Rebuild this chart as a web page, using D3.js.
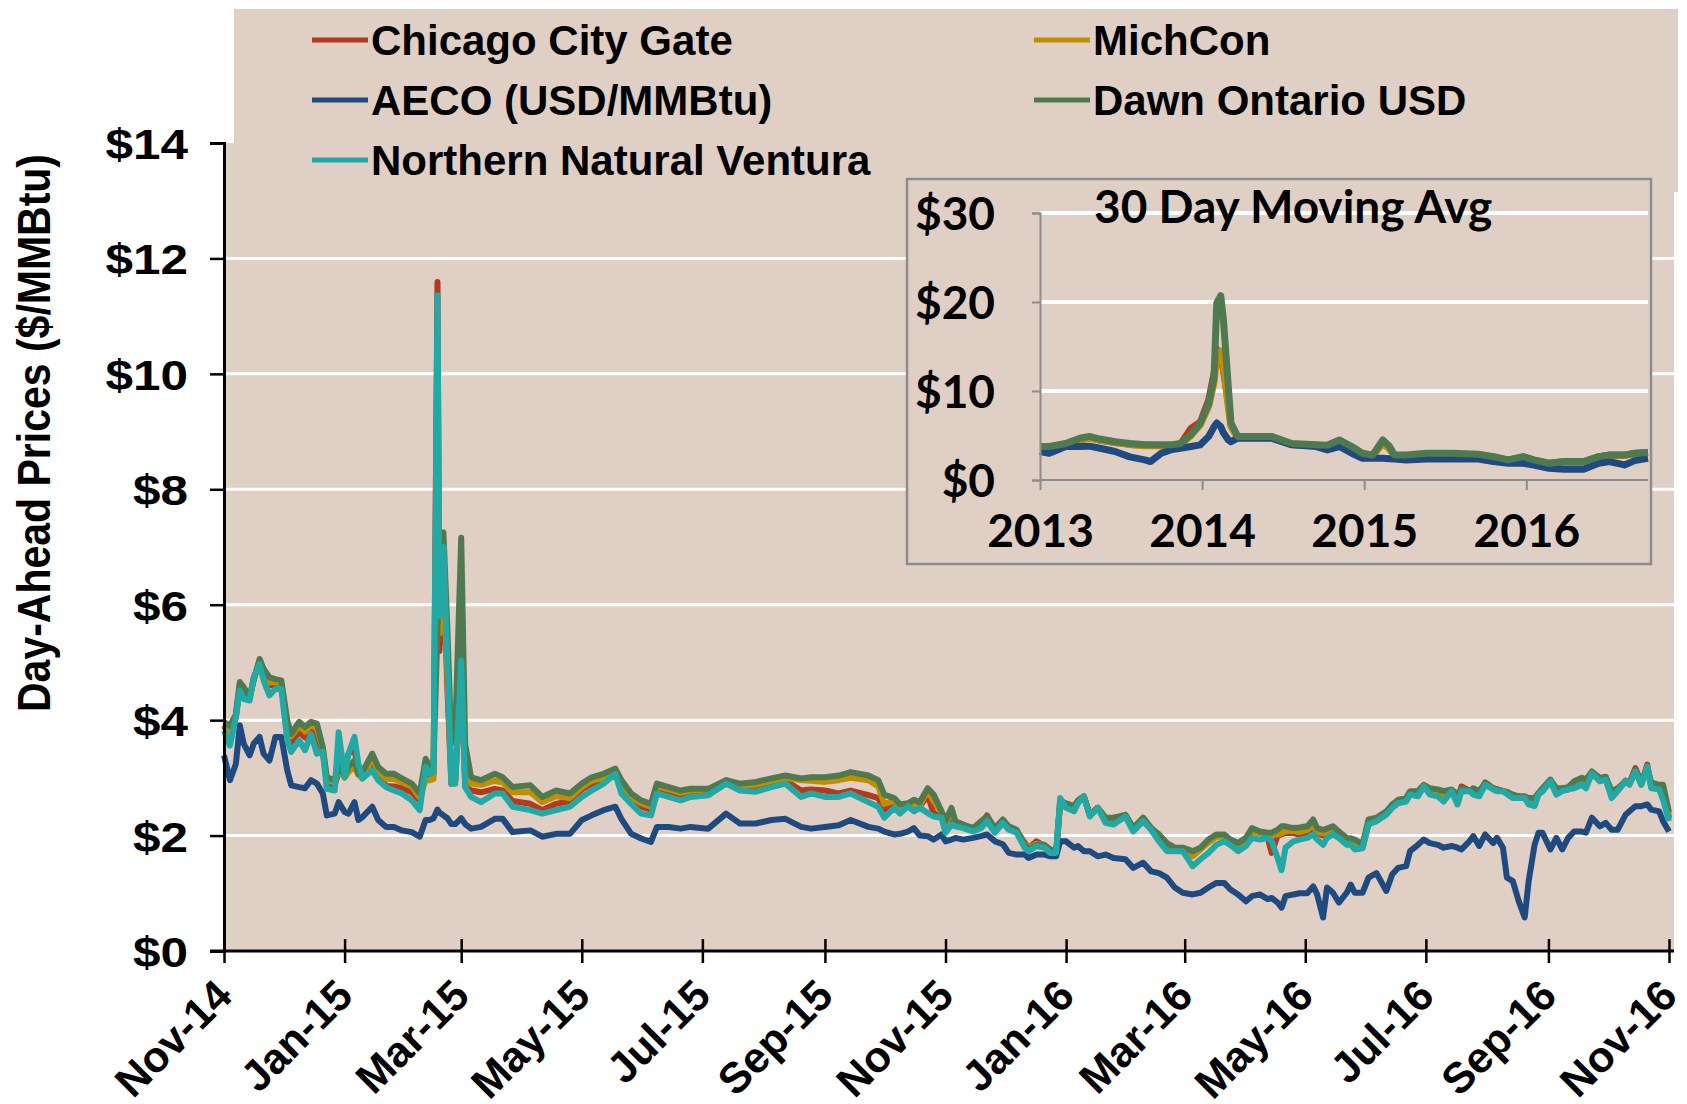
<!DOCTYPE html>
<html>
<head>
<meta charset="utf-8">
<script src="https://cdn.jsdelivr.net/npm/d3@7"></script>
<style>
  body { margin: 0; background: #fff; }
  text { font-family: "Liberation Sans", Arial, sans-serif; font-weight: bold; fill: #000; }
  .inset text { font-family: Lato, "Open Sans", sans-serif; }
</style>
</head>
<body>
<svg id="chart" width="1687" height="1104"></svg>
<script>
// daily hub prices, Nov-14 .. Nov-16 ($/MMBtu)
const dates = [
"2014-11-01","2014-11-04","2014-11-07","2014-11-09","2014-11-11","2014-11-14","2014-11-16","2014-11-19","2014-11-21","2014-11-24",
"2014-11-27","2014-11-30","2014-12-03","2014-12-05","2014-12-09","2014-12-12","2014-12-15","2014-12-18","2014-12-21","2014-12-23",
"2014-12-27","2014-12-29","2015-01-01","2015-01-03","2015-01-06","2015-01-08","2015-01-10","2015-01-15","2015-01-18","2015-01-22",
"2015-01-26","2015-01-30","2015-02-04","2015-02-08","2015-02-11","2015-02-13","2015-02-15","2015-02-17","2015-02-18","2015-02-20",
"2015-02-22","2015-02-24","2015-02-26","2015-03-01","2015-03-03","2015-03-06","2015-03-11","2015-03-18","2015-03-22","2015-03-27",
"2015-04-05","2015-04-11","2015-04-18","2015-04-25","2015-05-01","2015-05-06","2015-05-12","2015-05-18","2015-05-21","2015-05-26",
"2015-05-31","2015-06-05","2015-06-08","2015-06-14","2015-06-20","2015-06-25","2015-07-04","2015-07-13","2015-07-20","2015-07-28",
"2015-08-05","2015-08-12","2015-08-20","2015-08-25","2015-09-01","2015-09-08","2015-09-14","2015-09-23","2015-09-28","2015-10-01",
"2015-10-06","2015-10-09","2015-10-13","2015-10-16","2015-10-19","2015-10-23","2015-10-26","2015-10-30","2015-11-01","2015-11-04",
"2015-11-06","2015-11-10","2015-11-15","2015-11-19","2015-11-22","2015-11-26","2015-11-30","2015-12-03","2015-12-07","2015-12-11",
"2015-12-13","2015-12-17","2015-12-21","2015-12-24","2015-12-27","2015-12-29","2016-01-01","2016-01-05","2016-01-07","2016-01-10",
"2016-01-13","2016-01-17","2016-01-21","2016-01-25","2016-01-31","2016-02-04","2016-02-09","2016-02-13","2016-02-17","2016-02-21",
"2016-02-25","2016-02-29","2016-03-05","2016-03-09","2016-03-13","2016-03-17","2016-03-21","2016-03-24","2016-03-28","2016-04-01",
"2016-04-04","2016-04-08","2016-04-12","2016-04-14","2016-04-17","2016-04-19","2016-04-21","2016-04-25","2016-04-28","2016-05-02",
"2016-05-05","2016-05-07","2016-05-10","2016-05-12","2016-05-15","2016-05-18","2016-05-22","2016-05-24","2016-05-26","2016-05-30",
"2016-06-02","2016-06-06","2016-06-11","2016-06-14","2016-06-17","2016-06-21","2016-06-23","2016-06-27","2016-06-30","2016-07-03",
"2016-07-07","2016-07-10","2016-07-14","2016-07-17","2016-07-19","2016-07-23","2016-07-25","2016-07-28","2016-07-31","2016-08-04",
"2016-08-06","2016-08-09","2016-08-11","2016-08-14","2016-08-17","2016-08-20","2016-08-22","2016-08-25","2016-08-27","2016-08-29",
"2016-09-02","2016-09-05","2016-09-08","2016-09-11","2016-09-14","2016-09-18","2016-09-20","2016-09-23","2016-09-27","2016-09-30",
"2016-10-03","2016-10-06","2016-10-10","2016-10-12","2016-10-15","2016-10-18","2016-10-21","2016-10-23","2016-10-27","2016-10-29",
"2016-11-01"];

const chicago = [
3.9,3.7,4.05,4.6,4.45,4.38,4.72,5.0,4.8,4.6,
4.62,4.6,3.85,3.59,3.8,3.7,3.85,3.7,3.45,2.92,
2.88,3.1,3.2,3.42,3.5,3.1,3.0,3.3,3.05,2.86,
2.85,2.82,2.75,2.61,3.1,3.0,3.05,11.59,5.2,6.6,
4.55,2.9,2.95,4.9,2.85,2.78,2.75,2.81,2.78,2.6,
2.55,2.44,2.55,2.6,2.8,2.9,2.98,3.1,2.87,2.6,
2.5,2.45,2.8,2.75,2.7,2.76,2.76,2.92,2.82,2.82,
2.87,2.95,2.78,2.8,2.78,2.73,2.78,2.7,2.65,2.45,
2.55,2.42,2.52,2.48,2.5,2.7,2.38,2.35,2.1,2.3,
2.2,2.15,2.1,2.2,2.35,2.1,2.25,2.12,2.08,1.88,
1.78,1.9,1.82,1.74,1.72,2.55,2.52,2.48,2.6,2.68,
2.36,2.48,2.28,2.28,2.35,2.12,2.3,2.13,1.96,1.85,
1.77,1.77,1.67,1.78,1.9,2.0,2.0,1.93,1.86,1.94,
2.08,2.05,1.96,1.7,2.0,2.02,2.05,2.04,2.02,2.05,
2.12,2.05,2.0,2.05,2.08,2.02,1.92,1.9,1.84,1.8,
2.22,2.28,2.38,2.5,2.58,2.6,2.73,2.73,2.86,2.75,
2.74,2.65,2.78,2.6,2.85,2.78,2.8,2.73,2.92,2.82,
2.8,2.77,2.75,2.68,2.68,2.65,2.6,2.62,2.72,2.77,
2.95,2.77,2.8,2.8,2.85,2.9,2.84,3.1,2.96,2.98,
2.7,2.78,2.95,2.9,3.17,2.9,3.23,2.85,2.82,2.75,
2.3];

const michcon = [
3.92,3.75,4.08,4.62,4.5,4.4,4.7,5.02,4.82,4.65,
4.66,4.64,3.92,3.72,3.9,3.8,3.92,3.85,3.5,2.96,
2.92,3.15,3.0,3.1,3.2,3.05,2.99,3.35,3.12,2.98,
2.98,2.92,2.85,2.66,2.96,2.96,2.98,9.8,5.5,6.4,
4.8,3.0,3.1,5.2,2.95,2.9,2.88,2.95,2.92,2.75,
2.75,2.58,2.68,2.65,2.84,2.95,3.0,3.12,2.9,2.66,
2.56,2.5,2.85,2.8,2.74,2.78,2.8,2.96,2.86,2.88,
2.95,3.0,2.96,2.95,2.93,2.96,3.0,2.96,2.85,2.55,
2.6,2.5,2.54,2.55,2.52,2.78,2.6,2.4,2.2,2.45,
2.22,2.17,2.11,2.22,2.3,2.11,2.26,2.14,2.09,1.86,
1.78,1.86,1.83,1.74,1.72,2.58,2.55,2.5,2.6,2.68,
2.36,2.48,2.3,2.3,2.36,2.13,2.3,2.13,1.93,1.79,
1.77,1.75,1.64,1.76,1.88,1.98,1.98,1.92,1.84,1.92,
2.06,2.04,2.02,2.0,2.02,2.04,2.08,2.08,2.06,2.1,
2.18,2.06,2.04,2.06,2.1,2.03,1.93,1.92,1.86,1.82,
2.24,2.28,2.38,2.5,2.58,2.6,2.73,2.74,2.86,2.77,
2.76,2.7,2.78,2.65,2.8,2.77,2.8,2.74,2.9,2.82,
2.8,2.77,2.75,2.7,2.68,2.66,2.62,2.65,2.72,2.77,
2.95,2.77,2.8,2.8,2.87,2.92,2.86,3.08,2.96,2.98,
2.72,2.8,2.94,2.9,3.12,2.88,3.18,2.85,2.83,2.8,
2.35];

const aeco = [
3.39,2.96,3.24,3.91,3.59,3.39,3.59,3.71,3.42,3.3,
3.71,3.71,3.13,2.87,2.84,2.82,2.96,2.9,2.73,2.35,
2.38,2.58,2.41,2.38,2.58,2.27,2.32,2.5,2.27,2.15,
2.15,2.09,2.06,1.98,2.27,2.27,2.3,2.45,2.4,2.35,
2.3,2.2,2.2,2.3,2.2,2.12,2.15,2.29,2.29,2.06,
2.09,1.98,2.03,2.03,2.27,2.35,2.44,2.5,2.29,2.03,
1.95,1.89,2.15,2.15,2.12,2.15,2.12,2.38,2.21,2.21,
2.27,2.29,2.15,2.12,2.15,2.18,2.27,2.15,2.12,2.07,
2.02,2.03,2.07,2.13,2.0,1.99,1.93,2.02,1.9,1.93,
1.96,1.93,1.96,1.99,2.02,1.9,1.85,1.7,1.67,1.67,
1.61,1.67,1.67,1.64,1.64,1.9,1.9,1.79,1.82,1.73,
1.73,1.64,1.67,1.61,1.59,1.44,1.53,1.38,1.35,1.27,
1.1,1.01,0.98,1.01,1.1,1.18,1.18,1.07,0.98,0.86,
0.95,0.98,0.9,0.92,0.84,0.75,0.95,0.98,1.0,1.0,
1.12,0.98,0.58,1.1,1.01,0.84,1.01,1.15,1.01,1.01,
1.27,1.35,1.04,1.33,1.44,1.47,1.73,1.84,1.93,1.87,
1.84,1.79,1.82,1.79,1.76,1.9,1.99,1.82,2.02,1.87,
1.96,1.79,1.27,1.21,0.86,0.58,1.21,1.84,2.05,2.05,
1.76,1.96,1.76,1.96,2.07,2.07,2.05,2.31,2.16,2.22,
2.1,2.1,2.36,2.42,2.51,2.51,2.54,2.45,2.42,2.25,
2.07];

const dawn = [
3.97,3.9,4.1,4.66,4.57,4.4,4.69,5.06,4.89,4.74,
4.71,4.69,3.99,3.76,3.97,3.88,3.97,3.94,3.53,3.01,
2.96,3.2,3.04,3.2,3.3,3.07,3.1,3.42,3.19,3.07,
3.07,2.99,2.9,2.73,3.33,3.2,3.25,5.6,6.3,7.25,
5.6,3.6,3.8,7.16,3.58,3.01,2.96,3.07,3.01,2.84,
2.87,2.67,2.78,2.73,2.9,3.01,3.07,3.16,2.96,2.73,
2.61,2.55,2.9,2.84,2.78,2.81,2.81,2.96,2.9,2.93,
2.99,3.04,2.99,3.01,3.01,3.04,3.1,3.04,2.96,2.71,
2.65,2.54,2.56,2.62,2.58,2.82,2.71,2.42,2.25,2.48,
2.25,2.19,2.13,2.25,2.33,2.13,2.28,2.16,2.1,1.84,
1.76,1.84,1.84,1.76,1.73,2.6,2.56,2.51,2.61,2.68,
2.36,2.48,2.31,2.31,2.36,2.13,2.31,2.13,2.02,1.87,
1.79,1.79,1.73,1.79,1.93,2.02,2.02,1.93,1.87,1.96,
2.13,2.07,2.05,2.05,2.1,2.16,2.16,2.13,2.14,2.16,
2.28,2.13,2.1,2.12,2.16,2.07,1.96,1.95,1.93,1.85,
2.28,2.31,2.42,2.54,2.62,2.65,2.77,2.77,2.88,2.82,
2.8,2.77,2.8,2.71,2.82,2.77,2.82,2.77,2.91,2.82,
2.8,2.77,2.76,2.71,2.68,2.68,2.65,2.65,2.74,2.82,
2.97,2.82,2.82,2.84,2.94,3.0,2.97,3.11,3.0,3.02,
2.77,2.82,2.94,2.92,3.14,2.94,3.17,2.92,2.88,2.88,
2.4];

const ventura = [
3.82,3.56,4.05,4.51,4.37,4.34,4.74,4.97,4.69,4.43,
4.54,4.54,3.65,3.45,3.65,3.48,3.76,3.42,3.45,2.81,
2.78,3.79,3.01,3.42,3.71,3.24,2.99,3.13,2.96,2.84,
2.78,2.73,2.61,2.44,3.19,3.07,3.1,11.36,5.8,7.0,
5.0,2.9,2.9,5.03,2.84,2.67,2.58,2.73,2.73,2.5,
2.44,2.38,2.44,2.5,2.67,2.78,2.9,3.07,2.73,2.55,
2.38,2.35,2.73,2.67,2.61,2.67,2.7,2.9,2.78,2.76,
2.84,2.9,2.67,2.73,2.67,2.67,2.73,2.58,2.5,2.31,
2.48,2.38,2.51,2.42,2.48,2.39,2.33,2.31,2.05,2.19,
2.16,2.13,2.07,2.13,2.25,2.05,2.22,2.1,2.05,1.79,
1.73,1.82,1.79,1.7,1.7,2.65,2.48,2.42,2.56,2.68,
2.33,2.48,2.22,2.19,2.33,2.07,2.25,2.1,1.9,1.73,
1.73,1.73,1.47,1.59,1.7,1.84,1.9,1.84,1.73,1.82,
1.96,1.93,1.96,1.9,1.61,1.4,1.79,1.9,1.93,1.96,
2.02,1.93,1.84,1.96,2.02,1.96,1.84,1.84,1.76,1.78,
2.19,2.25,2.36,2.48,2.56,2.59,2.71,2.68,2.85,2.71,
2.68,2.59,2.77,2.54,2.77,2.77,2.71,2.68,2.88,2.8,
2.77,2.77,2.72,2.65,2.65,2.65,2.54,2.51,2.71,2.77,
2.94,2.71,2.77,2.8,2.82,2.88,2.82,3.08,2.94,2.97,
2.65,2.77,2.94,2.88,3.11,2.88,3.2,2.82,2.8,2.62,
2.25];

// inset: 30 day moving average, 2013 .. 2016
const avgDates = [
"2013-01-01","2013-01-22","2013-02-28","2013-04-01","2013-04-22","2013-05-16","2013-06-19","2013-07-22","2013-08-25","2013-09-07",
"2013-10-01","2013-10-22","2013-11-13","2013-12-07","2013-12-28","2014-01-16","2014-01-28","2014-02-03","2014-02-12","2014-02-18",
"2014-03-01","2014-03-07","2014-03-22","2014-04-22","2014-06-06","2014-07-22","2014-09-15","2014-10-10","2014-11-06","2014-12-04",
"2014-12-28","2015-01-20","2015-02-12","2015-02-27","2015-03-10","2015-04-06","2015-05-22","2015-07-19","2015-09-15","2015-10-19",
"2015-11-21","2015-12-25","2016-01-18","2016-02-21","2016-03-25","2016-05-09","2016-06-12","2016-07-06","2016-08-09","2016-09-01",
"2016-10-01"];
const avgChicago = [
3.65,3.7,3.95,4.5,4.75,4.5,4.2,4.0,3.9,3.9,
3.85,3.9,4.0,5.8,6.5,9.0,12.0,14.7,13.9,12.4,
8.6,6.2,4.85,4.85,4.8,4.0,3.85,3.8,4.3,3.65,
2.95,2.7,4.2,3.5,2.7,2.7,2.85,2.85,2.75,2.55,
2.22,2.55,2.22,1.85,2.02,2.02,2.6,2.78,2.78,2.97,
3.05];
const avgMichcon = [
3.6,3.65,3.95,4.5,4.7,4.45,4.2,4.0,3.85,3.85,
3.85,3.85,3.95,5.0,6.2,8.3,11.0,14.0,14.5,13.0,
8.2,6.0,4.8,4.8,4.8,4.0,3.9,3.85,4.4,3.7,
2.95,2.75,4.1,3.5,2.75,2.75,2.9,2.9,2.85,2.6,
2.24,2.6,2.24,1.86,2.03,2.03,2.6,2.78,2.78,2.97,
3.05];
const avgAeco = [
3.2,3.0,3.76,3.76,3.8,3.57,3.2,2.6,2.26,2.07,
3.0,3.38,3.57,3.76,3.95,4.9,6.0,6.4,6.0,5.3,
4.5,4.3,4.7,4.7,4.7,3.95,3.76,3.38,3.76,3.0,
2.44,2.44,2.44,2.4,2.35,2.26,2.35,2.35,2.35,2.07,
1.88,1.88,1.69,1.32,1.2,1.2,1.88,2.07,1.69,2.18,
2.44];
const avgDawn = [
3.76,3.76,4.1,4.7,4.9,4.6,4.3,4.1,3.95,3.95,
3.95,3.95,4.1,5.1,6.4,8.6,11.6,19.9,20.7,18.0,
10.5,6.4,4.9,4.9,4.9,4.1,3.95,3.9,4.5,3.76,
3.0,2.8,4.5,3.76,2.8,2.8,3.0,3.0,2.9,2.63,
2.26,2.63,2.26,1.88,2.07,2.07,2.63,2.8,2.8,3.0,
3.08];

const seriesNames = ["Chicago City Gate", "MichCon", "AECO (USD/MMBtu)", "Dawn Ontario USD", "Northern Natural Ventura"];
const seriesColors = ["#B3391F", "#BF8F00", "#1F4A80", "#4F7A4F", "#22A8A5"];
const yTicks = [0, 2, 4, 6, 8, 10, 12, 14];
const insetYTicks = [0, 10, 20, 30];
const insetYears = ["2013-01-01", "2014-01-01", "2015-01-01", "2016-01-01"];

const parse = d3.timeParse("%Y-%m-%d");
const bg = "#E0CFC5";
const svg = d3.select("#chart");

const x = d3.scaleTime().domain([parse("2014-11-01"), parse("2016-11-01")]).range([224, 1669]);
const y = d3.scaleLinear().domain([0, 14]).range([951, 143]);

// background: plot area + legend box
svg.append("rect").attr("x", 224).attr("y", 143).attr("width", 1674 - 224).attr("height", 951 - 143).attr("fill", bg);
svg.append("rect").attr("x", 234).attr("y", 9).attr("width", 1678 - 234).attr("height", 192 - 9).attr("fill", bg);

// gridlines
svg.append("g").selectAll("line").data(yTicks.filter(d => d > 0 && d < 14)).join("line")
  .attr("x1", 224).attr("x2", 1674)
  .attr("y1", d => y(d)).attr("y2", d => y(d))
  .attr("stroke", "#fff").attr("stroke-width", 3);

// lines
const rows = dates.map((d, i) => ({ date: parse(d), vals: [chicago[i], michcon[i], aeco[i], dawn[i], ventura[i]] }));
seriesNames.forEach((name, k) => {
  const line = d3.line().x(d => x(d.date)).y(d => y(d.vals[k])).defined(d => d.vals[k] != null);
  svg.append("path").datum(rows).attr("d", line)
    .attr("fill", "none").attr("stroke", seriesColors[k])
    .attr("stroke-width", 6).attr("stroke-linejoin", "round");
});

// y axis (labels a little wide, as in the original)
const yAxis = svg.append("g").attr("transform", "translate(224,0)")
  .call(d3.axisLeft(y).tickValues(yTicks).tickFormat(d => "$" + d).tickSize(14).tickPadding(22));
yAxis.select(".domain").attr("stroke", "#000").attr("stroke-width", 3);
yAxis.selectAll(".tick line").attr("stroke", "#000").attr("stroke-width", 2.5);
yAxis.selectAll(".tick text").attr("font-size", 43).attr("font-family", null).attr("dy", "0.36em")
  .attr("x", -36 / 1.15).attr("transform", "scale(1.15,1)");

// x axis
const xAxis = svg.append("g").attr("transform", "translate(0,951)")
  .call(d3.axisBottom(x).ticks(d3.timeMonth.every(2)).tickFormat(d3.timeFormat("%b-%y")).tickSize(12));
xAxis.select(".domain").remove();
xAxis.append("line").attr("x1", 210).attr("x2", 1674).attr("stroke", "#000").attr("stroke-width", 3);
xAxis.selectAll(".tick line").attr("y1", -12).attr("stroke", "#000").attr("stroke-width", 2.5);
xAxis.selectAll(".tick text")
  .attr("font-size", 43).attr("font-family", null)
  .attr("text-anchor", "end").attr("y", 0).attr("dy", 0)
  .attr("transform", "translate(10,47) rotate(-45)");

// y title
svg.append("text").attr("transform", "translate(50,433) rotate(-90) scale(1,1.12)")
  .attr("text-anchor", "middle").attr("font-size", 41)
  .text("Day-Ahead Prices ($/MMBtu)");

// legend
const legend = svg.append("g").selectAll("g").data(seriesNames).join("g")
  .attr("transform", (d, i) => `translate(${i % 2 === 0 ? 312 : 1034},${40 + 60 * Math.floor(i / 2)})`);
legend.append("line").attr("x1", 0).attr("x2", 56)
  .attr("stroke", (d, i) => seriesColors[i]).attr("stroke-width", 5);
legend.append("text").attr("x", 59).attr("dy", "0.36em").attr("font-size", 42).text(d => d);

// inset
const inset = svg.append("g").attr("class", "inset");
inset.append("rect").attr("x", 907).attr("y", 179).attr("width", 1651 - 907).attr("height", 564 - 179)
  .attr("fill", bg).attr("stroke", "#8C8C8C").attr("stroke-width", 2.5);

const xi = d3.scaleTime().domain([parse("2013-01-01"), parse("2016-10-01")]).range([1040, 1648]);
const yi = d3.scaleLinear().domain([0, 30]).range([480, 213]);

inset.append("g").selectAll("line").data(insetYTicks.filter(d => d > 0)).join("line")
  .attr("x1", 1040).attr("x2", 1648)
  .attr("y1", d => yi(d)).attr("y2", d => yi(d))
  .attr("stroke", "#fff").attr("stroke-width", 4);

const avgRows = avgDates.map((d, i) => ({ date: parse(d), vals: [avgChicago[i], avgMichcon[i], avgAeco[i], avgDawn[i]] }));
[0, 1, 2, 3].forEach(k => {
  const line = d3.line().x(d => xi(d.date)).y(d => yi(d.vals[k]));
  inset.append("path").datum(avgRows).attr("d", line)
    .attr("fill", "none").attr("stroke", seriesColors[k])
    .attr("stroke-width", 7).attr("stroke-linejoin", "round");
});

const yiAxis = inset.append("g").attr("transform", "translate(1040,0)")
  .call(d3.axisLeft(yi).tickValues(insetYTicks).tickFormat(d => "$" + d).tickSize(8).tickPadding(37));
yiAxis.select(".domain").attr("stroke", "#8C8C8C").attr("stroke-width", 2);
yiAxis.selectAll(".tick line").attr("stroke", "#8C8C8C").attr("stroke-width", 2);
yiAxis.selectAll(".tick text").attr("font-size", 46).attr("font-family", null).attr("dy", "0.36em");

const xiAxis = inset.append("g").attr("transform", "translate(0,480)")
  .call(d3.axisBottom(xi).tickValues(insetYears.map(parse)).tickFormat(d3.timeFormat("%Y")).tickSize(10).tickPadding(24));
xiAxis.select(".domain").remove();
xiAxis.append("line").attr("x1", 1040).attr("x2", 1648).attr("stroke", "#8C8C8C").attr("stroke-width", 2);
xiAxis.selectAll(".tick line").attr("stroke", "#8C8C8C").attr("stroke-width", 2);
xiAxis.selectAll(".tick text").attr("font-size", 46).attr("font-family", null).attr("dy", "0.71em");

inset.append("text").attr("x", 1094).attr("y", 223).attr("font-size", 46).text("30 Day Moving Avg");
</script>
</body>
</html>
